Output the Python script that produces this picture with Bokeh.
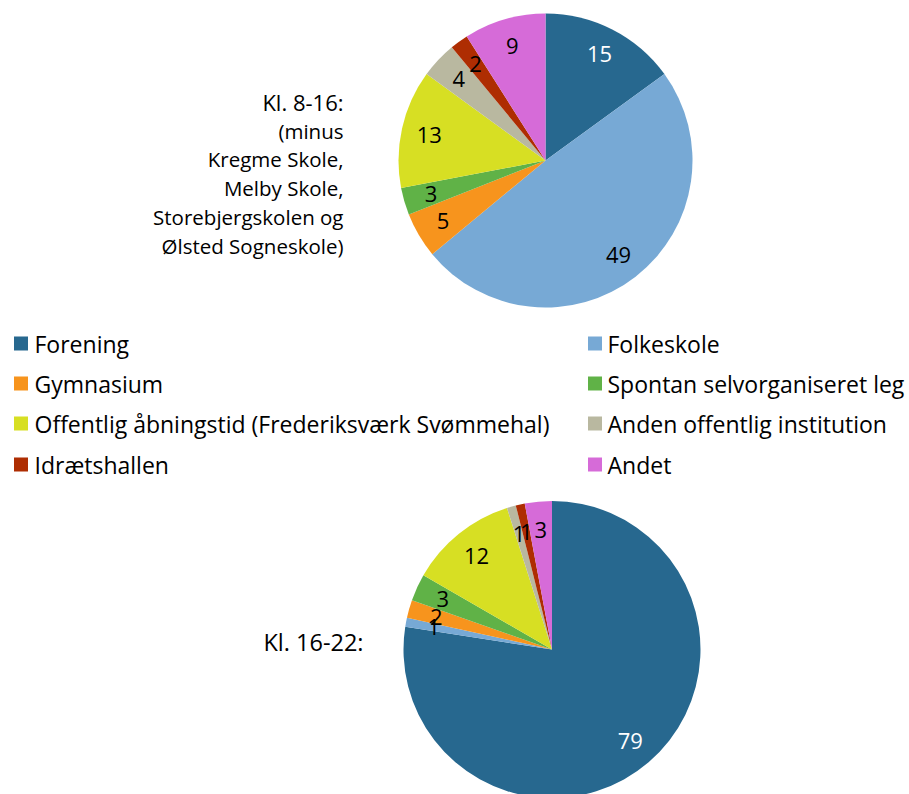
import math
from bokeh.plotting import figure
from bokeh.models import ColumnDataSource, Range1d
from bokeh.core.properties import value
from bokeh.embed import file_html
from bokeh.resources import INLINE

# ---------------- data ----------------
categories = [
    "Forening",
    "Folkeskole",
    "Gymnasium",
    "Spontan selvorganiseret leg",
    "Offentlig åbningstid (Frederiksværk Svømmehal)",
    "Anden offentlig institution",
    "Idrætshallen",
    "Andet",
]
colors = ["#27688F", "#77A9D5", "#F7941D", "#60B247",
          "#D7DF23", "#B9B8A0", "#AE2D02", "#D66BD8"]
label_colors = ["white", "black", "black", "black",
                "black", "black", "black", "black"]
values_8_16 = [15, 49, 5, 3, 13, 4, 2, 9]
values_16_22 = [79, 1, 2, 3, 12, 1, 1, 3]
title_8_16 = ["Kl. 8-16:"]
subtitle_8_16 = ["(minus", "Kregme Skole,", "Melby Skole,",
                 "Storebjergskolen og", "Ølsted Sogneskole)"]
title_16_22 = ["Kl. 16-22:"]

# ---------------- layout ----------------
W, H = 909, 794
FONT = value("Open Sans")


def X(px):
    return px


def Y(py):
    return H - py


p = figure(width=W, height=H, output_backend="svg", toolbar_location=None,
           x_axis_type=None, y_axis_type=None, min_border=0,
           x_range=Range1d(0, W), y_range=Range1d(0, H))
p.outline_line_color = None
p.grid.visible = False
p.background_fill_color = "white"
p.border_fill_color = "white"


def pie(vals, cx, cy, r, lab_frac=0.81):
    total = float(sum(vals))
    starts, ends, lx, ly = [], [], [], []
    cum = 0.0
    for v in vals:
        a0 = math.pi / 2 - 2 * math.pi * cum / total
        cum += v
        a1 = math.pi / 2 - 2 * math.pi * cum / total
        starts.append(a0)
        ends.append(a1)
        mid = (a0 + a1) / 2
        lx.append(cx + lab_frac * r * math.cos(mid))
        ly.append(cy + lab_frac * r * math.sin(mid))
    src = ColumnDataSource(dict(start=starts, end=ends, color=colors,
                                lx=lx, ly=ly, txt=[str(v) for v in vals],
                                tc=label_colors))
    p.wedge(x=cx, y=cy, radius=r, start_angle="start", end_angle="end",
            direction="clock", fill_color="color", line_color=None, source=src)
    p.text(x="lx", y="ly", text="txt", text_color="tc", source=src,
           text_font=FONT, text_font_size="22px",
           text_align="center", text_baseline="middle")


pie(values_8_16, X(545), Y(160), 147)
pie(values_16_22, X(551.5), Y(649), 148.5)

# side titles
p.text(x=[X(343)], y=[Y(101)], text=title_8_16, text_font=FONT,
       text_font_size="22px", text_align="right", text_baseline="middle",
       text_color="black")
t1 = ColumnDataSource(dict(x=[X(343)] * 5,
                           y=[Y(v) for v in (130, 158, 187, 216, 245)],
                           t=subtitle_8_16))
p.text(x="x", y="y", text="t", source=t1, text_font=FONT,
       text_font_size="20.5px", text_align="right", text_baseline="middle",
       text_color="black")
p.text(x=[X(363)], y=[Y(641)], text=title_16_22, text_font=FONT,
       text_font_size="23.5px", text_align="right", text_baseline="middle",
       text_color="black")

# legend (two columns, row-major)
col_mark = [X(20.5), X(594.5)]
col_text = [X(34), X(607)]
row_y = [Y(v) for v in (343, 383, 423, 464)]
mx, my, tx, ty = [], [], [], []
for i in range(len(categories)):
    r, c = divmod(i, 2)
    mx.append(col_mark[c])
    my.append(row_y[r])
    tx.append(col_text[c])
    ty.append(row_y[r])
leg = ColumnDataSource(dict(mx=mx, my=my, tx=tx, ty=ty, t=categories, color=colors))
p.rect(x="mx", y="my", width=14, height=14, fill_color="color",
       line_color=None, source=leg)
p.text(x="tx", y="ty", text="t", source=leg, text_font=FONT,
       text_font_size="23px", text_align="left", text_baseline="middle",
       text_color="black")

open("out.html", "w").write(file_html(p, INLINE))
